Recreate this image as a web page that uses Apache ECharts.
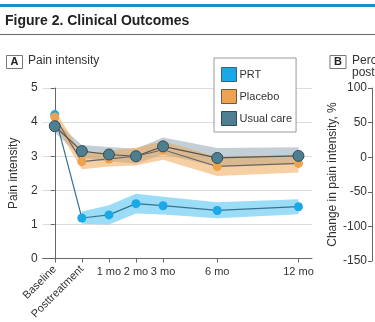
<!DOCTYPE html>
<html><head><meta charset="utf-8">
<script src="https://cdn.jsdelivr.net/npm/echarts@6/dist/echarts.min.js"></script>
<style>html,body{margin:0;padding:0;background:#fff}#c{width:375px;height:322px}</style>
</head><body><div id="c"></div><script>
const categories = ['Baseline','Posttreatment','1 mo','2 mo','3 mo','6 mo','12 mo'];
const timePositions = [0,1,2,3,4,6,9];
const prt = [4.22,1.19,1.28,1.61,1.55,1.41,1.52];
const prtLow = [null,1.02,1.0,1.32,1.29,1.18,1.3];
const prtHigh = [null,1.38,1.56,1.9,1.81,1.65,1.74];
const placebo = [4.15,2.84,2.92,3.0,3.19,2.7,2.79];
const placeboLow = [3.95,2.62,2.7,2.73,2.9,2.42,2.52];
const placeboHigh = [4.35,3.08,3.15,3.25,3.45,2.98,3.05];
const usual = [3.88,3.15,3.05,3.0,3.29,2.95,3.01];
const usualLow = [3.7,2.95,2.85,2.78,3.05,2.7,2.77];
const usualHigh = [4.05,3.33,3.27,3.22,3.55,3.24,3.26];
const yTicksA = [0,1,2,3,4,5];
const yTicksB = [-150,-100,-50,0,50,100];

const FONT = "'Liberation Sans', Arial, sans-serif";
const TXT = '#333';
const AXC = '#666';

function pts(vals){ return timePositions.map((x,i)=>[x, vals[i]]); }
function band(low, high, color){
  const data = timePositions.map((x,i)=>[x, low[i], high[i]]).filter(d=>d[1]!=null);
  return {type:'custom', xAxisIndex:0, yAxisIndex:0, silent:true, z:1, data,
    encode:{x:0, y:[1,2]},
    renderItem:(params, api)=>{
      if(params.dataIndex!==0) return null;
      const top = data.map(d=>api.coord([d[0], d[2]]));
      const bot = data.map(d=>api.coord([d[0], d[1]])).reverse();
      return {type:'polygon', shape:{points: top.concat(bot)}, style:{fill:color}};
    }};
}
function line(name, vals, lineColor, markColor, border, size, z){
  return {type:'line', name, xAxisIndex:0, yAxisIndex:0, data:pts(vals), z:z,
    symbol:'circle', symbolSize:size, showSymbol:true,
    lineStyle:{color:lineColor, width:1.2},
    itemStyle:{color:markColor, borderColor:border, borderWidth:border?1:0, opacity:1}};
}
const chart = echarts.init(document.getElementById('c'), null, {renderer:'canvas'});
const labelMap = {}; timePositions.forEach((p,i)=>labelMap[p]=categories[i]);
chart.setOption({
  animation:false,
  textStyle:{fontFamily:FONT},
  grid:[{left:41, top:88, width:271, height:173},{left:372, top:88, width:200, height:173}],
  legend:{orient:'vertical', left:214, top:58, padding:[9,4,6,7], itemWidth:15, itemHeight:14, itemGap:7,
    borderColor:'#999', borderWidth:1, backgroundColor:'#fff', icon:'rect',
    textStyle:{fontSize:11, color:TXT, fontFamily:FONT, padding:[0,0,0,-2]},
    data:[{name:'PRT', itemStyle:{color:'#1ba8e6', borderColor:'#3a6072', borderWidth:1}},
          {name:'Placebo', itemStyle:{color:'#eca24f', borderColor:'#6a5a48', borderWidth:1}},
          {name:'Usual care', itemStyle:{color:'#4e7f91', borderColor:'#2f4c58', borderWidth:1}}]},
  xAxis:[
    {gridIndex:0, type:'value', min:-0.45, max:9.5, position:'bottom',
     axisLine:{lineStyle:{color:AXC}}, axisTick:{show:true, length:4, customValues:timePositions, lineStyle:{color:AXC}},
     axisLabel:{customValues:[2,3,4,6,9], formatter:v=>labelMap[v], fontSize:11, color:TXT, margin:8},
     splitLine:{show:false}},
    {gridIndex:0, type:'value', min:-0.45, max:9.5, position:'bottom',
     axisLine:{show:false}, axisTick:{show:false},
     axisLabel:{customValues:[0,1], formatter:v=>labelMap[v], rotate:45, fontSize:11, color:TXT, margin:9},
     splitLine:{show:false}},
    {gridIndex:1, type:'value', show:false}
  ],
  yAxis:[
    {gridIndex:0, type:'value', min:0, max:5, interval:1,
     axisLine:{show:true, lineStyle:{color:AXC}}, axisTick:{show:true, length:4, lineStyle:{color:AXC}},
     axisLabel:{fontSize:12, color:TXT, margin:5, customValues:yTicksA},
     splitLine:{show:true, lineStyle:{color:'#dcdcdc'}},
     name:'Pain intensity', nameLocation:'middle', nameGap:21, nameTextStyle:{fontSize:12, color:TXT}},
    {gridIndex:1, type:'value', min:-150, max:100, interval:50,
     axisLine:{show:true, lineStyle:{color:AXC}}, axisTick:{show:true, length:4, lineStyle:{color:AXC}},
     axisLabel:{fontSize:12, color:TXT, margin:5, customValues:yTicksB},
     splitLine:{show:false},
     name:'Change in pain intensity, %', nameLocation:'middle', nameGap:29, nameTextStyle:{fontSize:12, color:TXT}}
  ],
  graphic:[
    {type:'rect', left:0, top:4, shape:{width:375, height:3}, style:{fill:'#1b8fc9'}},
    {type:'text', left:5, top:14, style:{text:'Figure 2. Clinical Outcomes', font:"bold 14px "+FONT, fill:'#222'}},
    {type:'rect', left:0, top:34, shape:{width:375, height:1}, style:{fill:'#666'}},
    {type:'rect', left:6, top:55, shape:{width:16, height:13}, style:{fill:'#fff', stroke:'#777', lineWidth:1}},
    {type:'text', left:10.5, top:56, style:{text:'A', font:"bold 11px "+FONT, fill:'#222'}},
    {type:'text', left:28, top:55, style:{text:'Pain intensity', font:"12px "+FONT, fill:TXT}},
    {type:'rect', left:329.5, top:55, shape:{width:16, height:13}, style:{fill:'#fff', stroke:'#777', lineWidth:1}},
    {type:'text', left:334, top:56, style:{text:'B', font:"bold 11px "+FONT, fill:'#222'}},
    {type:'text', left:352, top:55, style:{text:'Percentage change in pain intensity from baseline to\nposttreatment', font:"12px "+FONT, fill:TXT, lineHeight:12}}
  ],
  series:[
    band(usualLow, usualHigh, 'rgba(112,140,158,0.42)'),
    band(placeboLow, placeboHigh, 'rgba(238,168,88,0.55)'),
    band(prtLow, prtHigh, 'rgba(88,196,242,0.6)'),
    line('PRT', prt, '#3a7392', '#1ba8e6', null, 9, 3),
    line('Placebo', placebo, '#666', '#eca24f', null, 9, 4),
    line('Usual care', usual, '#555', '#4e7f91', '#2f4c58', 11, 5)
  ]
});
</script></body></html>
